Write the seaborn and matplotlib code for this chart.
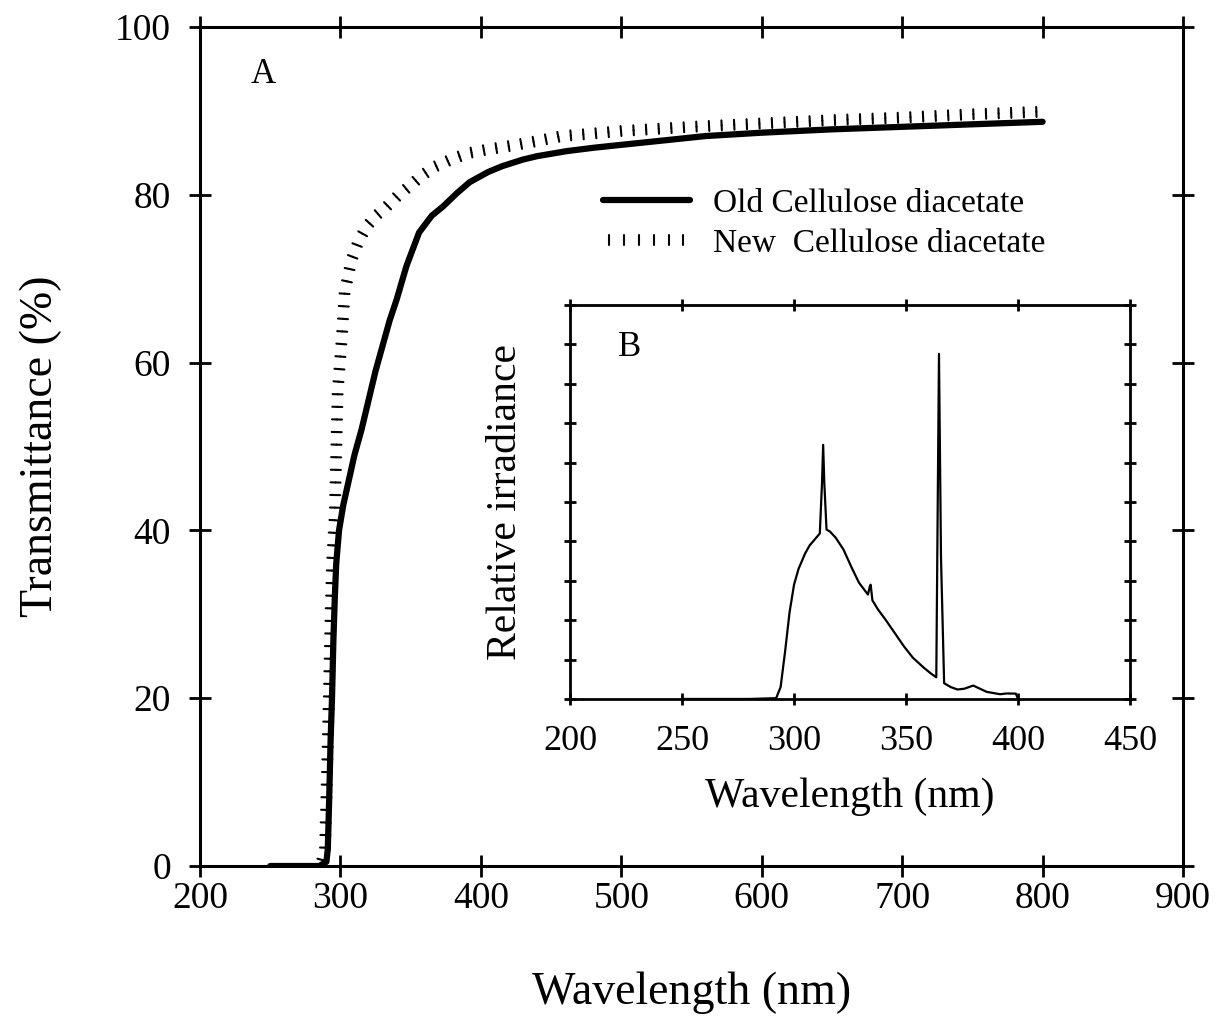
import matplotlib
matplotlib.use("Agg")
import matplotlib.pyplot as plt
import matplotlib.patheffects as pe
import pandas as pd
import seaborn as sns

# --------------------------------------------------
# data
# --------------------------------------------------
# A: transmittance (%) of the two films
old_nm = [250, 285, 290, 291, 292, 293, 294, 295, 296, 297, 299, 302, 306, 310, 315,
          320, 325, 330, 335, 340, 347, 356, 365, 373, 383, 392, 405, 415, 430, 440,
          461, 480, 497, 520, 560, 600, 650, 700, 750, 800]
old_t = [0, 0, 0.5, 2, 8, 15, 20, 27, 32, 36, 40, 43, 46, 49, 52,
         55.5, 59, 62, 65, 67.5, 71.5, 75.5, 77.5, 78.6, 80.2, 81.5, 82.7, 83.4, 84.2, 84.6,
         85.2, 85.6, 85.9, 86.3, 87.0, 87.4, 87.8, 88.1, 88.4, 88.7]

new_nm = [286, 289, 290, 291, 292, 293, 294, 296, 298, 301, 303, 308, 313, 319,
          326, 333, 341, 349, 358, 368, 380, 392, 405, 420, 440, 458, 480, 500, 550,
          600, 650, 700, 750, 800]
new_t = [0, 2, 8, 15, 22, 30, 36, 42, 56.4, 63, 68.4, 72.3, 74.5, 76.3,
         77.6, 78.6, 79.9, 81, 82.3, 83.4, 84.3, 85, 85.4, 85.8, 86.4, 87, 87.3, 87.6, 88.1,
         88.5, 88.9, 89.2, 89.6, 89.9]

# B: lamp spectrum, relative irradiance
lamp_nm = [250, 280, 292, 294, 296, 298, 300, 302, 305, 307, 310, 311.5, 312.5, 313,
           313.5, 314.5, 316, 318.5, 322, 326, 329, 333, 333.8, 334.2, 335, 337.5, 341,
           345, 349, 353, 358, 361, 363.5, 364.7, 365.6, 367, 370, 373, 376, 380, 383,
           386, 390, 392, 395, 399, 400]
lamp_rel = [0, 0, 0.002, 0.03, 0.12, 0.22, 0.29, 0.33, 0.37, 0.39, 0.41, 0.42, 0.55, 0.645,
            0.55, 0.43, 0.425, 0.41, 0.38, 0.33, 0.295, 0.265, 0.285, 0.29, 0.25, 0.227, 0.2,
            0.167, 0.134, 0.105, 0.079, 0.065, 0.055, 0.876, 0.36, 0.04, 0.03, 0.024, 0.026, 0.034, 0.026,
            0.018, 0.014, 0.012, 0.014, 0.0135, 0]

main_xticks = [200, 300, 400, 500, 600, 700, 800, 900]
main_yticks = [0, 20, 40, 60, 80, 100]
inset_xticks = [200, 250, 300, 350, 400, 450]
inset_yticks = [0, 0.1, 0.2, 0.3, 0.4, 0.5, 0.6, 0.7, 0.8, 0.9, 1.0]

old_df = pd.DataFrame({"nm": old_nm, "T": old_t})
new_df = pd.DataFrame({"nm": new_nm, "T": new_t})
lamp_df = pd.DataFrame({"nm": lamp_nm, "rel": lamp_rel})

# --------------------------------------------------
# style
# --------------------------------------------------
sns.set_style("ticks")
plt.rcParams['font.family'] = ['Liberation Serif', 'DejaVu Serif']
plt.rcParams['text.color'] = 'black'
plt.rcParams['axes.labelcolor'] = 'black'
plt.rcParams['xtick.color'] = 'black'
plt.rcParams['ytick.color'] = 'black'
plt.rcParams['axes.edgecolor'] = 'black'

fig = plt.figure(figsize=(12.18, 10.18), dpi=100)

# --------------------------------------------------
# main panel A
# --------------------------------------------------
ax = fig.add_axes([0.1642, 0.1493, 0.8071, 0.8242])
sns.lineplot(data=old_df, x="nm", y="T", ax=ax, color="black", linewidth=4.5,
             estimator=None, label="Old Cellulose diacetate")
sns.lineplot(data=new_df, x="nm", y="T", ax=ax, color="black", linewidth=1.5,
             estimator=None, label="New  Cellulose diacetate")
# only short ticks across the path, no base line
ticked = ax.lines[1]
ticked.set_path_effects([
    pe.TickedStroke(spacing=9, angle=90, length=0.4),
    pe.TickedStroke(spacing=9, angle=-90, length=0.4),
])

ax.set_xlim(200, 900)
ax.set_ylim(0, 100)
ax.set_xticks(main_xticks)
ax.set_yticks(main_yticks)
ax.tick_params(axis="both", which="major", direction="inout", length=16, width=2,
               top=True, right=True, labelsize=27)
ax.tick_params(axis="x", pad=3)
ax.tick_params(axis="y", pad=13)
for s in ax.spines.values():
    s.set_linewidth(2.2)
    s.set_visible(True)
ax.set_xlabel("Wavelength (nm)", fontsize=33, labelpad=40)
ax.set_ylabel("Transmittance (%)", fontsize=33, labelpad=38)
ax.text(0.064, 0.943, "A", transform=ax.transAxes, fontsize=25, ha="center", va="center")

ax.legend(loc="upper left", bbox_to_anchor=(0.41, 0.808), frameon=False, fontsize=24,
          handlelength=2.6, handletextpad=0.7, labelspacing=0.3,
          borderpad=0, borderaxespad=0)

# --------------------------------------------------
# inset panel B
# --------------------------------------------------
axi = fig.add_axes([0.468, 0.3134, 0.4598, 0.387])
sns.lineplot(data=lamp_df, x="nm", y="rel", ax=axi, color="black", linewidth=1.6,
             estimator=None)
axi.set_xlim(200, 450)
axi.set_ylim(0, 1)
axi.set_xticks(inset_xticks)
axi.set_yticks(inset_yticks)
axi.set_yticklabels([])
axi.tick_params(axis="both", which="major", direction="inout", length=9, width=2,
                top=True, right=True, labelsize=26, pad=14)
for s in axi.spines.values():
    s.set_linewidth(2)
    s.set_visible(True)
axi.set_xlabel("Wavelength (nm)", fontsize=30, labelpad=14)
axi.set_ylabel("Relative irradiance", fontsize=30, labelpad=14)
axi.text(0.107, 0.893, "B", transform=axi.transAxes, fontsize=25, ha="center", va="center")

fig.savefig("out.png", dpi=100)
